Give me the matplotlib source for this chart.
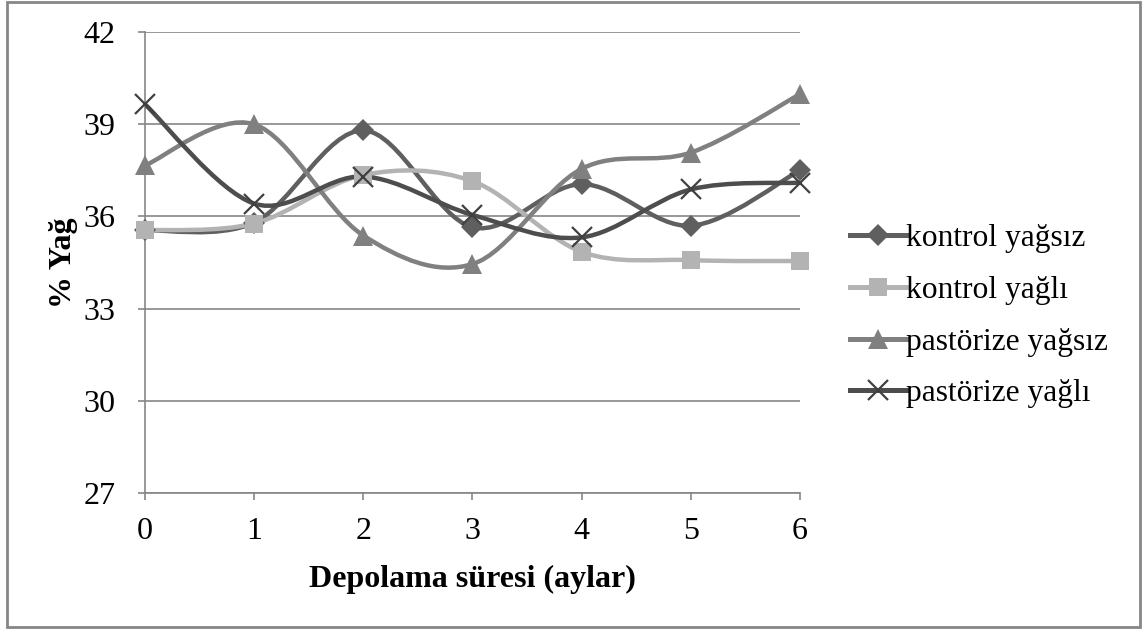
import numpy as np
import matplotlib.pyplot as plt
from matplotlib.path import Path
from matplotlib.patches import PathPatch, Rectangle

plt.rcParams['font.family'] = ['Liberation Serif', 'DejaVu Serif']

months = [0, 1, 2, 3, 4, 5, 6]
kontrol_yagsiz = [35.55, 35.8, 38.8, 35.65, 37.05, 35.7, 37.5]
kontrol_yagli = [35.55, 35.77, 37.35, 37.15, 34.85, 34.58, 34.55]
past_yagsiz = [37.66, 39.0, 35.38, 34.45, 37.55, 38.08, 39.98]
past_yagli = [39.65, 36.42, 37.3, 36.05, 35.32, 36.88, 37.1]

labels = ['kontrol yağsız', 'kontrol yağlı', 'pastörize yağsız', 'pastörize yağlı']
yticks = [27, 30, 33, 36, 39, 42]

GRID = '#868686'
FS = 23


def smooth_path(x, y):
    # excel style smoothed line as cubic bezier segments
    pts = np.column_stack([x, y]).astype(float)
    n = len(pts)
    verts = [pts[0]]
    codes = [Path.MOVETO]
    for i in range(n - 1):
        p0 = pts[max(i - 1, 0)]
        p1 = pts[i]
        p2 = pts[i + 1]
        p3 = pts[min(i + 2, n - 1)]
        c1 = p1 + (p2 - p0) / 6.0
        c2 = p2 - (p3 - p1) / 6.0
        verts += [c1, c2, p2]
        codes += [Path.CURVE4] * 3
    return Path(verts, codes)


fig = plt.figure(figsize=(11.47, 6.30), dpi=100)
ax = fig.add_axes([0.1264, 0.2175, 0.571, 0.7315])

series = [
    (kontrol_yagsiz, '#5f5f5f', 'D', 11, 1.0),
    (kontrol_yagli, '#b3b3b3', 's', 13, 1.0),
    (past_yagsiz, '#808080', '^', 14, 1.0),
    (past_yagli, '#4d4d4d', 'x', 14, 1.6),
]

handles = []
for (vals, col, mk, ms, mew), lab in zip(series, labels):
    patch = PathPatch(smooth_path(months, vals), fill=False, edgecolor=col,
                      lw=3.2, zorder=3, capstyle='round')
    ax.add_patch(patch)
    if mk == 'x':
        ax.plot(months, vals, ls='none', marker=mk, ms=ms, mew=mew,
                color='#404040', zorder=4, clip_on=False)
        h, = ax.plot([], [], color=col, lw=3.6, marker=mk, ms=ms, mew=mew,
                     mec='#404040')
    else:
        ax.plot(months, vals, ls='none', marker=mk, ms=ms, mew=0,
                color=col, zorder=4, clip_on=False)
        h, = ax.plot([], [], color=col, lw=3.6, marker=mk, ms=ms, mew=0)
    handles.append(h)

ax.set_xlim(0, 6)
ax.set_ylim(27, 42)
ax.set_xticks(months)
ax.set_yticks(yticks)
ax.yaxis.grid(True, color=GRID, lw=1.2)
ax.set_axisbelow(True)
for side in ['top', 'right']:
    ax.spines[side].set_visible(False)
for side in ['left', 'bottom']:
    ax.spines[side].set_color(GRID)
    ax.spines[side].set_linewidth(1.2)
ax.tick_params(axis='both', colors=GRID, length=5, width=1.2,
               labelcolor='black', labelsize=FS)
ax.tick_params(axis='y', pad=16)
ax.tick_params(axis='x', pad=12)

ax.set_xlabel('Depolama süresi (aylar)', fontsize=FS, fontweight='bold', labelpad=14)
ax.set_ylabel('% Yağ', fontsize=FS, fontweight='bold', labelpad=4)

fig.legend(handles, labels, loc='center left', bbox_to_anchor=(0.7305, 0.498),
           frameon=False, fontsize=FS - 0.3, handlelength=1.75, handletextpad=0.02,
           labelspacing=0.72, borderaxespad=0)

fig.add_artist(Rectangle((0.006, 0.004), 0.988, 0.993, transform=fig.transFigure,
                         fill=False, edgecolor=GRID, lw=2))

fig.savefig('out.png', dpi=100)
